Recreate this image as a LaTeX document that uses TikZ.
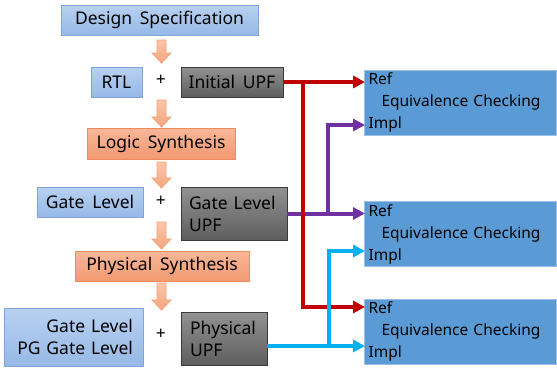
\documentclass[tikz,border=0pt]{standalone}
\usepackage{fontspec}
\setmainfont{Noto Sans}[WordSpace=1.7]
\usetikzlibrary{arrows.meta}

\definecolor{specA}{HTML}{B7D1F0}
\definecolor{specB}{HTML}{97B9E6}
\definecolor{specD}{HTML}{7FA6D9}
\definecolor{synA}{HTML}{F9B799}
\definecolor{synB}{HTML}{F29A70}
\definecolor{synD}{HTML}{F08A5C}
\definecolor{upfA}{HTML}{929292}
\definecolor{upfB}{HTML}{5E5E5E}
\definecolor{upfD}{HTML}{3A3A3A}
\definecolor{chkA}{HTML}{5B9BD5}
\definecolor{chkD}{HTML}{9DC0E6}
\definecolor{flowA}{HTML}{F9C6AA}
\definecolor{flowB}{HTML}{F5A67E}
\definecolor{flowD}{HTML}{F3A27A}
\definecolor{refred}{HTML}{C00000}
\definecolor{gatepurple}{HTML}{7030A0}
\definecolor{physcyan}{HTML}{00B0F0}

\tikzset{pics/flow/.style={code={
  \draw[draw=flowD,line width=0.8pt,top color=flowA,bottom color=flowB]
    (-4.5,0) -- (-4.5,#1-10) -- (-9.5,#1-10) -- (0,#1) -- (9.5,#1-10) -- (4.5,#1-10) -- (4.5,0) -- cycle;}}}

\begin{document}
\begin{tikzpicture}[x=1pt,y=-1pt,
  every node/.style={font=\fontsize{17.5}{22}\selectfont},
  box/.style={draw,line width=0.8pt,minimum height=30,inner sep=0pt},
  spec/.style={box,top color=specA,bottom color=specB,draw=specD},
  synth/.style={box,top color=synA,bottom color=synB,draw=synD},
  upf/.style={box,top color=upfA,bottom color=upfB,draw=upfD},
  check/.style={draw=chkD,fill=chkA,line width=0.8pt,minimum height=65,
    inner xsep=4pt,inner ysep=0pt,text width=184,align=left,
    font=\fontsize{15.5}{22}\selectfont},
  link/.style={line width=4pt,-{Triangle[length=12pt,width=12pt]}}]
\useasboundingbox (0,0) rectangle (557,368);

% left column
\node[spec,minimum width=197] (spec) at (159.5,20) {Design Specification};
\node[spec,minimum width=51] (rtl) at (116.5,82) {RTL};
\node (plus1) at (161,80) {+};
\node[upf,minimum width=102] (iupf) at (232,82) {Initial UPF};
\node[synth,minimum width=148,minimum height=31] (logic) at (161,143.5) {Logic Synthesis};
\node[spec,minimum width=106] (gate) at (90,202) {Gate Level};
\node (plus2) at (161,201) {+};
\node[upf,minimum width=106,minimum height=53,text width=90,align=left] (gupf) at (234,213.5) {Gate Level\\UPF};
\node[synth,minimum width=174] (phys) at (162,266) {Physical Synthesis};
\node[spec,minimum width=139,minimum height=58,text width=119,align=right] (pg) at (73.5,337) {Gate Level\\PG Gate Level};
\node (plus3) at (161,334) {+};
\node[upf,minimum width=86,minimum height=53,text width=68,align=left] (pupf) at (224,338.5) {Physical\\UPF};

% flow arrows
\pic at (161.5,40) {flow=23};
\pic at (161.5,100) {flow=27};
\pic at (161.5,162) {flow=26};
\pic at (161.5,222) {flow=27};
\pic at (161.5,283) {flow=27};

% checking boxes
\node[check] (ec1) at (460.5,102.5) {Ref\\\hspace*{13pt}Equivalence Checking\\Impl};
\node[check] (ec2) at (460.5,234) {Ref\\\hspace*{13pt}Equivalence Checking\\Impl};
\node[check] (ec3) at (460.5,331.5) {Ref\\\hspace*{13pt}Equivalence Checking\\Impl};

\coordinate (ec1r) at (365,82);
\coordinate (ec1i) at (365,125);
\coordinate (ec2r) at (365,213.5);
\coordinate (ec2i) at (365,251);
\coordinate (ec3r) at (365,307);
\coordinate (ec3i) at (365,346);
\coordinate (rj) at (303,82);
\coordinate (pj) at (328,213.5);
\coordinate (cj) at (329,346);

% connections
\draw[link,gatepurple] (gupf.east) -- (ec2r);
\draw[link,gatepurple] (pj) |- (ec1i);
\draw[link,refred] (iupf.east) -- (ec1r);
\draw[link,refred] (rj) |- (ec3r);
\draw[link,physcyan] (pupf.east |- ec3i) -- (ec3i);
\draw[link,physcyan] (cj) |- (ec2i);
\end{tikzpicture}
\end{document}
